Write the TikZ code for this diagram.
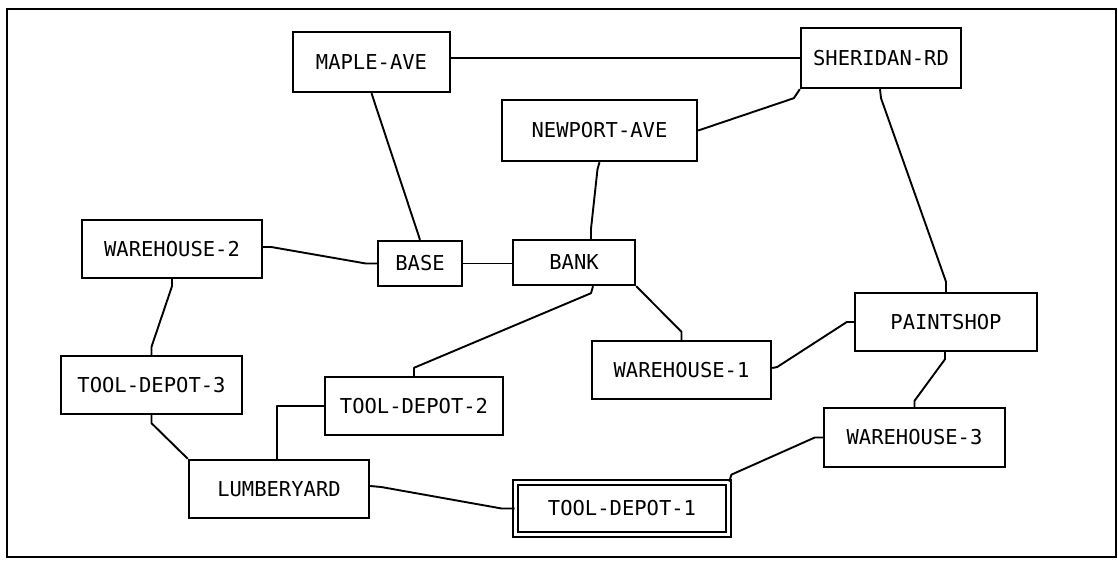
\documentclass[tikz,border=0pt]{standalone}
\usepackage{fontspec}
\setmonofont{DejaVu Sans Mono}
\begin{document}
\begin{tikzpicture}[x=1pt, y=-1pt,
    place/.style={draw, line width=2.4pt, inner sep=0pt, minimum height=58pt,
      font=\ttfamily\fontsize{20.5}{20.5}\selectfont},
    road/.style={line width=1.9pt, line join=round}]
    \useasboundingbox (0,0) rectangle (1118,561);

    % 外框
    \draw[line width=2.2pt] (7,9) rectangle (1116,557);

    % 地点
    \node[place, minimum width=157pt, minimum height=60pt] (maple) at (371.5,62) {MAPLE-AVE};
    \node[place, minimum width=160pt, minimum height=60pt] (sheridan) at (881,58) {SHERIDAN-RD};
    \node[place, minimum width=195pt, minimum height=61pt] (newport) at (599.5,130.5) {NEWPORT-AVE};
    \node[place, minimum width=180pt] (wh2) at (172,249) {WAREHOUSE-2};
    \node[place, minimum width=84pt, minimum height=45pt] (base) at (420,263.5) {BASE};
    \node[place, minimum width=122pt, minimum height=45pt] (bank) at (574,262.5) {BANK};
    \node[place, minimum width=181pt] (td3) at (151.5,385) {TOOL-DEPOT-3};
    \node[place, minimum width=178pt] (td2) at (414,406) {TOOL-DEPOT-2};
    \node[place, minimum width=180pt] (lumber) at (279,489) {LUMBERYARD};
    \node[place, minimum width=213pt, minimum height=52pt, line width=1.7pt,
      double, double distance=3.3pt] (td1) at (622,508.5) {TOOL-DEPOT-1};
    \node[place, minimum width=179pt] (wh1) at (681.5,370) {WAREHOUSE-1};
    \node[place, minimum width=182pt] (paint) at (946,322) {PAINTSHOP};
    \node[place, minimum width=181pt, minimum height=59pt] (wh3) at (914.5,437.5) {WAREHOUSE-3};

    % 道路
    \draw[road] (maple.east |- sheridan.west) -- (sheridan.west);
    \draw[road] (maple.south) -- (base.north);
    \draw[road] (sheridan.south west) -- ++(-6,9) -- (newport.east);
    \draw[road] (newport.south) -- ++(-2,7) -- ([xshift=17pt,yshift=10pt]bank.north) -- ([xshift=17pt]bank.north);
    \draw[road] ([xshift=-1pt]sheridan.south) -- ++(1,9) -- ([yshift=10pt]paint.north) -- (paint.north);
    \draw[road] ([yshift=2pt]wh2.east) -- ++(8,0) -- ([xshift=-11pt]base.west) -- (base.west);
    \draw[road] (base.east) -- (base.east -| bank.west);
    \draw[road] (wh2.south) -- ++(0,7) -- ([yshift=8pt]td3.north) -- (td3.north);
    \draw[road] ([xshift=19pt]bank.south) -- ++(-2,7) -- ([yshift=8pt]td2.north) -- (td2.north);
    \draw[road] (bank.south east) -- ([yshift=8pt]wh1.north) -- (wh1.north);
    \draw[road] ([yshift=2pt]wh1.east) -- ++(5,-1) -- ([xshift=-7pt]paint.west) -- (paint.west);
    \draw[road] ([xshift=-1pt]paint.south) -- ++(0,7) -- ([yshift=6pt]wh3.north) -- (wh3.north);
    \draw[road] (wh3.west) -- ++(-8,0) -- ([xshift=2pt,yshift=7pt]td1.north east) -- (td1.north east);
    \draw[road] (td3.south) -- ++(0,8) -- (lumber.north west);
    \draw[road] ([xshift=-2pt]lumber.north) |- (td2.west);
    \draw[road] ([yshift=3pt]lumber.east) -- ++(11,1) -- ([xshift=-13pt]td1.west) -- (td1.west);
\end{tikzpicture}
\end{document}
